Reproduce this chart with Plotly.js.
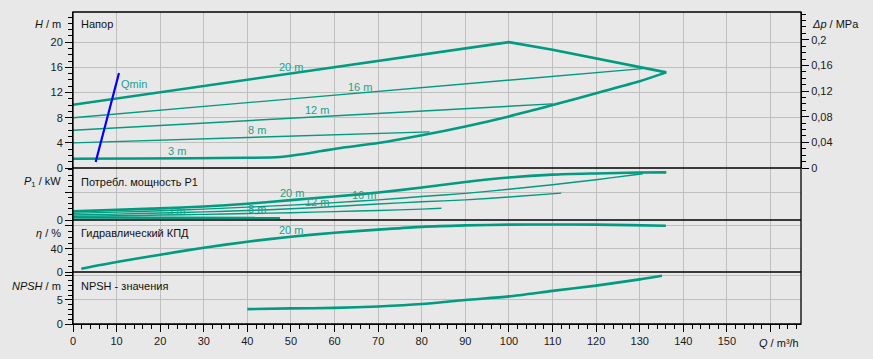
<!DOCTYPE html>
<html>
<head>
<meta charset="utf-8">
<script src="https://cdn.plot.ly/plotly-3.0.1.min.js"></script>
<style>html,body{margin:0;padding:0;background:#e8e8e8;}#chart{width:873px;height:359px;}</style>
</head>
<body>
<div id="chart"></div>
<script>
// ---- Head (H / m) ----
const qH20 = [0, 10, 20, 30, 40, 50, 60, 70, 80, 90, 100, 110, 120, 130, 136.1];
const h20  = [10.05, 11.05, 12.1, 13.1, 14.1, 15.1, 16.0, 17.05, 18.0, 19.0, 20.0, 18.8, 17.45, 16.0, 15.2];
const qH16 = [0, 130.7];
const h16  = [8.0, 15.8];
const qH12 = [0, 110];
const h12  = [6.0, 10.2];
const qH8  = [0, 81.8];
const h8   = [4.0, 5.75];
const qH3  = [0, 15.7, 40, 47.4, 52, 57, 62, 70, 80, 90, 100, 110, 120, 130, 136.1];
const h3   = [1.48, 1.5, 1.62, 1.75, 2.15, 2.7, 3.25, 3.97, 5.2, 6.6, 8.2, 10.0, 11.9, 13.8, 15.2];
const qMin = [5.2, 10.55];
const hMin = [0.95, 15.1];

// ---- Power P1 / kW ----
const qP20 = [0, 10, 20, 30, 40, 50, 60, 70, 80, 90, 100, 110, 120, 130, 136.1];
const p20  = [1.54, 1.8, 2.08, 2.42, 2.9, 3.55, 4.2, 4.9, 5.8, 6.8, 7.6, 8.1, 8.32, 8.48, 8.5];
const qP16 = [0, 10, 20, 30, 40, 50, 60, 70, 80, 90, 100, 110, 120, 128, 130.7];
const p16  = [1.18, 1.4, 1.65, 1.95, 2.3, 2.65, 3.1, 3.6, 4.2, 4.75, 5.5, 6.3, 7.2, 8.0, 8.27];
const qP12 = [0, 10, 20, 30, 40, 50, 60, 70, 80, 90, 100, 112];
const p12  = [0.89, 1.05, 1.25, 1.45, 1.7, 2.0, 2.4, 2.85, 3.25, 3.6, 4.1, 4.8];
const qP8  = [0, 10, 20, 30, 40, 50, 60, 70, 80, 84.5];
const p8   = [0.64, 0.75, 0.88, 1.0, 1.15, 1.3, 1.5, 1.7, 1.95, 2.1];
const qP3  = [0, 10, 20, 30, 40, 47.5];
const p3   = [0.45, 0.43, 0.41, 0.38, 0.35, 0.33];

// ---- Efficiency eta / % ----
const qEta = [1.9, 10, 20, 30, 40, 50, 60, 70, 80, 90, 100, 110, 120, 128, 136];
const eta  = [5.7, 17.4, 30, 42.3, 52.7, 61.4, 68.3, 73.6, 78.5, 81, 82.3, 82.5, 82.3, 81.5, 80.5];

// ---- NPSH / m ----
const qNpsh = [40, 50, 60, 70, 80, 90, 100, 110, 120, 130, 135.1];
const npsh  = [3.1, 3.25, 3.35, 3.65, 4.15, 5.0, 5.75, 6.9, 8.0, 9.3, 10.05];

// ---- Tick labels ----
const xTickVals = [0,10,20,30,40,50,60,70,80,90,100,110,120,130,140,150,160];
const xTickText = ['0','10','20','30','40','50','60','70','80','90','100','110','120','130','140','150',' '];
const hTickVals = [0,4,8,12,16,20];
const hTickText = ['0','4','8','12','16','20'];
const dpTickVals = [0,0.04,0.08,0.12,0.16,0.2];
const dpTickText = ['0','0,04','0,08','0,12','0,16','0,2'];
const pTickVals = [0,5];
const pTickText = ['0',' '];
const etaTickVals = [0,40,80];
const etaTickText = ['0','40',' '];
const npshTickVals = [0,5,10];
const npshTickText = ['0','5',' '];

const TEAL = '#009b80';
const LBL = '#1f9f8c';
const FONT = 'Liberation Sans, Arial, sans-serif';
const thick = 2.6, thin = 1.4;

function tr(x, y, yaxis, w, color, smooth) {
  const ln = {color: color || TEAL, width: w};
  if (smooth) { ln.shape = 'spline'; ln.smoothing = 0.7; }
  return {x: x, y: y, yaxis: yaxis, xaxis: 'x', type: 'scatter', mode: 'lines',
          line: ln, hoverinfo: 'skip', showlegend: false};
}

const data = [
  tr(qH20, h20, 'y', thick), tr(qH16, h16, 'y', thin), tr(qH12, h12, 'y', thin),
  tr(qH8, h8, 'y', thin), tr(qH3, h3, 'y', thick, null, true), tr(qMin, hMin, 'y', 2.2, '#0000ff'),
  tr(qP20, p20, 'y2', thick, null, true), tr(qP16, p16, 'y2', thin, null, true), tr(qP12, p12, 'y2', thin, null, true),
  tr(qP8, p8, 'y2', thin, null, true), tr(qP3, p3, 'y2', thick),
  tr(qEta, eta, 'y3', thick, null, true),
  tr(qNpsh, npsh, 'y4', thick, null, true),
  {x: [], y: [], xaxis: 'x', yaxis: 'y5', type: 'scatter', mode: 'lines', showlegend: false, hoverinfo: 'skip'}
];

const GRID = '#bfbfbf';
const tickFont = {family: FONT, size: 11, color: '#1a1a1a'};
function yax(domain, range, tv, tt, minorDt) {
  return {domain: domain, range: range, anchor: 'x', tickmode: 'array', tickvals: tv, ticktext: tt,
          ticks: 'outside', ticklen: 7, tickcolor: '#000', showline: true, linecolor: '#000', linewidth: 1,
          showgrid: true, gridcolor: GRID, gridwidth: 1, zeroline: false, fixedrange: true,
          tickfont: tickFont,
          minor: {tickmode: 'linear', tick0: 0, dtick: minorDt, ticks: 'outside', ticklen: 4, tickcolor: '#000', showgrid: false}};
}

const L = 73, R = 72, T = 12, B = 35, W = 873, Hh = 359;
const pw = W - L - R, ph = Hh - T - B;
function px(xp) { return (xp - L) / pw; }
function py(yp) { return (Hh - B - yp) / ph; }

function ann(text, x, y, xref, yref, opts) {
  return Object.assign({text: text, x: x, y: y, xref: xref, yref: yref, showarrow: false,
    font: {family: FONT, size: 11, color: '#111'}, xanchor: 'left', yanchor: 'middle'}, opts || {});
}
const lblFont = {family: FONT, size: 11, color: LBL};

const annotations = [
  ann('<i>H</i> / m', px(63), py(24), 'paper', 'paper', {xanchor: 'right'}),
  ann('<i>Δp</i> / MPa', px(810), py(24), 'paper', 'paper'),
  ann('<i>P</i><sub>1</sub> / kW', px(63), py(182), 'paper', 'paper', {xanchor: 'right'}),
  ann('<i>η</i> / %', px(63), py(233), 'paper', 'paper', {xanchor: 'right'}),
  ann('<i>NPSH</i> / m', px(63), py(286), 'paper', 'paper', {xanchor: 'right'}),
  ann('<i>Q</i> / m³/h', 1, py(343), 'paper', 'paper', {xanchor: 'right'}),
  ann('Напор', px(79), py(24), 'paper', 'paper'),
  ann('Потребл. мощность P1', px(79), py(182), 'paper', 'paper'),
  ann('Гидравлический КПД', px(79), py(233), 'paper', 'paper'),
  ann('NPSH - значения', px(79), py(286), 'paper', 'paper'),
  // curve labels, head panel
  ann('20 m', 49.9, 16.1, 'x', 'y', {xanchor: 'center', font: lblFont}),
  ann('16 m', 65.8, 12.9, 'x', 'y', {xanchor: 'center', font: lblFont}),
  ann('12 m', 55.9, 9.25, 'x', 'y', {xanchor: 'center', font: lblFont}),
  ann('8 m', 42.1, 6.08, 'x', 'y', {xanchor: 'center', font: lblFont}),
  ann('3 m', 23.8, 2.75, 'x', 'y', {xanchor: 'center', font: lblFont}),
  ann('Qmin', 13.9, 13.4, 'x', 'y', {xanchor: 'center', font: lblFont}),
  // power panel
  ann('20 m', 50.2, 4.9, 'x', 'y2', {xanchor: 'center', font: lblFont}),
  ann('16 m', 66.7, 4.5, 'x', 'y2', {xanchor: 'center', font: lblFont}),
  ann('12 m', 55.9, 3.27, 'x', 'y2', {xanchor: 'center', font: lblFont}),
  ann('8 m', 42.1, 2.0, 'x', 'y2', {xanchor: 'center', font: lblFont}),
  ann('3 m', 23.6, 1.66, 'x', 'y2', {xanchor: 'center', font: lblFont}),
  // efficiency panel
  ann('20 m', 50.0, 73.6, 'x', 'y3', {xanchor: 'center', font: lblFont})
];

const bl = {color: '#000', width: 1.3};
const shapes = [
  {type: 'rect', xref: 'paper', yref: 'paper', x0: 0, x1: 1, y0: 0, y1: 1, line: bl},
  {type: 'line', xref: 'paper', yref: 'paper', x0: 0, x1: 1, y0: 0.5, y1: 0.5, line: bl},
  {type: 'line', xref: 'paper', yref: 'paper', x0: 0, x1: 1, y0: 1/3, y1: 1/3, line: bl},
  {type: 'line', xref: 'paper', yref: 'paper', x0: 0, x1: 1, y0: 1/6, y1: 1/6, line: bl}
];

const layout = {
  width: W, height: Hh,
  margin: {l: L, r: R, t: T, b: B, pad: 0},
  paper_bgcolor: '#e8e8e8', plot_bgcolor: '#e8e8e8',
  font: {family: FONT, size: 11, color: '#111'},
  showlegend: false,
  xaxis: {domain: [0, 1], range: [0, 167], anchor: 'y4', tickmode: 'array', tickvals: xTickVals, ticktext: xTickText,
          ticks: 'outside', ticklen: 7, tickcolor: '#000', showline: true, linecolor: '#000',
          showgrid: true, gridcolor: GRID, gridwidth: 1, zeroline: false, fixedrange: true, tickfont: tickFont,
          minor: {tickmode: 'linear', tick0: 0, dtick: 2, ticks: 'outside', ticklen: 4, tickcolor: '#000', showgrid: false}},
  yaxis: yax([0.5, 1], [0, 24.8], hTickVals, hTickText, 1),
  yaxis2: yax([1/3, 0.5], [0, 9.29], pTickVals, pTickText, 1),
  yaxis3: yax([1/6, 1/3], [0, 90.4], etaTickVals, etaTickText, 10),
  yaxis4: yax([0, 1/6], [0, 10.83], npshTickVals, npshTickText, 1),
  yaxis5: {overlaying: 'y', side: 'right', anchor: 'x', range: [0, 0.2433], tickmode: 'array',
           tickvals: dpTickVals, ticktext: dpTickText, ticks: 'outside', ticklen: 7, tickcolor: '#000',
           showline: true, linecolor: '#000', showgrid: false, zeroline: false, fixedrange: true, tickfont: tickFont,
           minor: {tickmode: 'linear', tick0: 0, dtick: 0.01, ticks: 'outside', ticklen: 4, tickcolor: '#000', showgrid: false}},
  annotations: annotations,
  shapes: shapes
};

Plotly.newPlot('chart', data, layout, {staticPlot: true, displayModeBar: false});
</script>
</body>
</html>
